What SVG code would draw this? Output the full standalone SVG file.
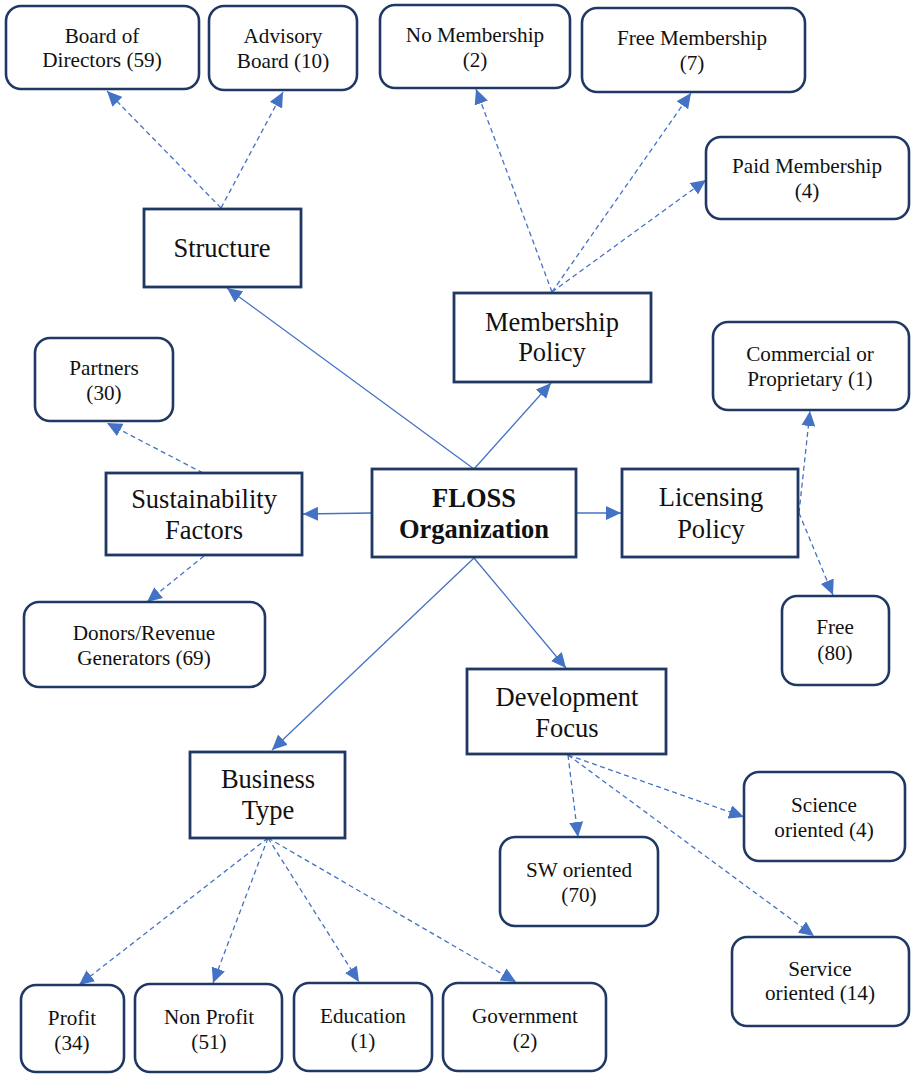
<svg xmlns="http://www.w3.org/2000/svg" width="911" height="1074" viewBox="0 0 911 1074">
<style>
.rb{fill:#fff;stroke:#203864;stroke-width:2.6}
.sq{fill:#fff;stroke:#203864;stroke-width:2.8}
.t{font-family:"Liberation Serif","Times New Roman",serif;font-size:21.2px;fill:#111;text-anchor:middle}
.tb{font-family:"Liberation Serif","Times New Roman",serif;font-size:26.5px;fill:#111;text-anchor:middle}
.bold{font-weight:bold}
.s{stroke:#4472C4;stroke-width:1.3;fill:none;marker-end:url(#ah)}
.d{stroke:#4472C4;stroke-width:1.3;fill:none;stroke-dasharray:5 3.5;marker-end:url(#ah)}
</style>
<defs>
<marker id="ah" markerUnits="userSpaceOnUse" markerWidth="16" markerHeight="14" refX="15" refY="7" orient="auto">
<path d="M0,0 L15,7 L0,14 z" fill="#4472C4"/>
</marker>
</defs>
<rect width="911" height="1074" fill="#fff"/>
<g id="connectors">
<line class="s" x1="474" y1="469" x2="227" y2="288"/>
<line class="s" x1="474" y1="469" x2="551" y2="383"/>
<line class="s" x1="372" y1="513" x2="303" y2="514"/>
<line class="s" x1="576" y1="513" x2="621" y2="513"/>
<line class="s" x1="474" y1="558" x2="272" y2="750"/>
<line class="s" x1="474" y1="558" x2="566" y2="668"/>
<line class="d" x1="221" y1="208" x2="107" y2="91"/>
<line class="d" x1="221" y1="208" x2="283" y2="92"/>
<line class="d" x1="552" y1="292" x2="476" y2="89"/>
<line class="d" x1="552" y1="292" x2="691" y2="93"/>
<line class="d" x1="552" y1="292" x2="706" y2="180"/>
<line class="d" x1="203" y1="473" x2="107" y2="423"/>
<line class="d" x1="204" y1="556" x2="147" y2="602"/>
<line class="d" x1="799" y1="513" x2="810" y2="411"/>
<line class="d" x1="799" y1="513" x2="833" y2="595"/>
<line class="d" x1="568" y1="755" x2="578" y2="837"/>
<line class="d" x1="568" y1="755" x2="744" y2="817"/>
<line class="d" x1="568" y1="755" x2="814" y2="936"/>
<line class="d" x1="268" y1="838" x2="79" y2="985"/>
<line class="d" x1="268" y1="838" x2="213" y2="983"/>
<line class="d" x1="268" y1="838" x2="359" y2="982"/>
<line class="d" x1="268" y1="838" x2="516" y2="982"/>
</g>
<g id="board"><rect class="rb" x="6" y="6" width="193" height="83" rx="15"/><text class="t" x="102" y="43">Board of</text><text class="t" x="102" y="67">Directors (59)</text></g>
<g id="advisory"><rect class="rb" x="209" y="6" width="148" height="84" rx="15"/><text class="t" x="283" y="43">Advisory</text><text class="t" x="283" y="68">Board (10)</text></g>
<g id="nomember"><rect class="rb" x="380" y="5" width="190" height="83" rx="15"/><text class="t" x="475" y="42">No Membership</text><text class="t" x="475" y="67">(2)</text></g>
<g id="freemember"><rect class="rb" x="582" y="8" width="223" height="84" rx="15"/><text class="t" x="692" y="45">Free Membership</text><text class="t" x="692" y="70">(7)</text></g>
<g id="paidmember"><rect class="rb" x="706" y="137" width="203" height="82" rx="15"/><text class="t" x="807" y="173">Paid Membership</text><text class="t" x="807" y="198">(4)</text></g>
<g id="structure"><rect class="sq" x="144" y="209" width="157" height="78"/><text class="tb" x="222" y="257">Structure</text></g>
<g id="membership"><rect class="sq" x="454" y="293" width="197" height="89"/><text class="tb" x="552" y="331">Membership</text><text class="tb" x="552" y="361">Policy</text></g>
<g id="commercial"><rect class="rb" x="713" y="322" width="196" height="88" rx="15"/><text class="t" x="810" y="361">Commercial or</text><text class="t" x="810" y="386">Proprietary (1)</text></g>
<g id="partners"><rect class="rb" x="35" y="338" width="138" height="83" rx="15"/><text class="t" x="104" y="375">Partners</text><text class="t" x="104" y="400">(30)</text></g>
<g id="sustain"><rect class="sq" x="106" y="473" width="196" height="82"/><text class="tb" x="204" y="508">Sustainability</text><text class="tb" x="204" y="539">Factors</text></g>
<g id="floss"><rect class="sq" x="372" y="469" width="204" height="88"/><text class="tb bold" x="474" y="507">FLOSS</text><text class="tb bold" x="474" y="538">Organization</text></g>
<g id="licensing"><rect class="sq" x="622" y="469" width="176" height="88"/><text class="tb" x="711" y="506">Licensing</text><text class="tb" x="711" y="538">Policy</text></g>
<g id="donors"><rect class="rb" x="24" y="602" width="241" height="85" rx="15"/><text class="t" x="144" y="640">Donors/Revenue</text><text class="t" x="144" y="665">Generators (69)</text></g>
<g id="free"><rect class="rb" x="782" y="596" width="107" height="89" rx="15"/><text class="t" x="835" y="634">Free</text><text class="t" x="835" y="660">(80)</text></g>
<g id="devfocus"><rect class="sq" x="467" y="669" width="199" height="85"/><text class="tb" x="567" y="706">Development</text><text class="tb" x="567" y="737">Focus</text></g>
<g id="business"><rect class="sq" x="190" y="752" width="155" height="86"/><text class="tb" x="268" y="788">Business</text><text class="tb" x="268" y="819">Type</text></g>
<g id="science"><rect class="rb" x="744" y="772" width="161" height="89" rx="15"/><text class="t" x="824" y="812">Science</text><text class="t" x="824" y="837">oriented (4)</text></g>
<g id="sw"><rect class="rb" x="500" y="837" width="158" height="89" rx="15"/><text class="t" x="579" y="877">SW oriented</text><text class="t" x="579" y="902">(70)</text></g>
<g id="service"><rect class="rb" x="732" y="937" width="177" height="89" rx="15"/><text class="t" x="820" y="976">Service</text><text class="t" x="820" y="1000">oriented (14)</text></g>
<g id="profit"><rect class="rb" x="21" y="985" width="103" height="87" rx="15"/><text class="t" x="72" y="1025">Profit</text><text class="t" x="72" y="1050">(34)</text></g>
<g id="nonprofit"><rect class="rb" x="135" y="984" width="147" height="88" rx="15"/><text class="t" x="209" y="1024">Non Profit</text><text class="t" x="209" y="1049">(51)</text></g>
<g id="education"><rect class="rb" x="294" y="983" width="138" height="88" rx="15"/><text class="t" x="363" y="1023">Education</text><text class="t" x="363" y="1048">(1)</text></g>
<g id="government"><rect class="rb" x="443" y="983" width="163" height="88" rx="15"/><text class="t" x="525" y="1023">Government</text><text class="t" x="525" y="1048">(2)</text></g>
</svg>
